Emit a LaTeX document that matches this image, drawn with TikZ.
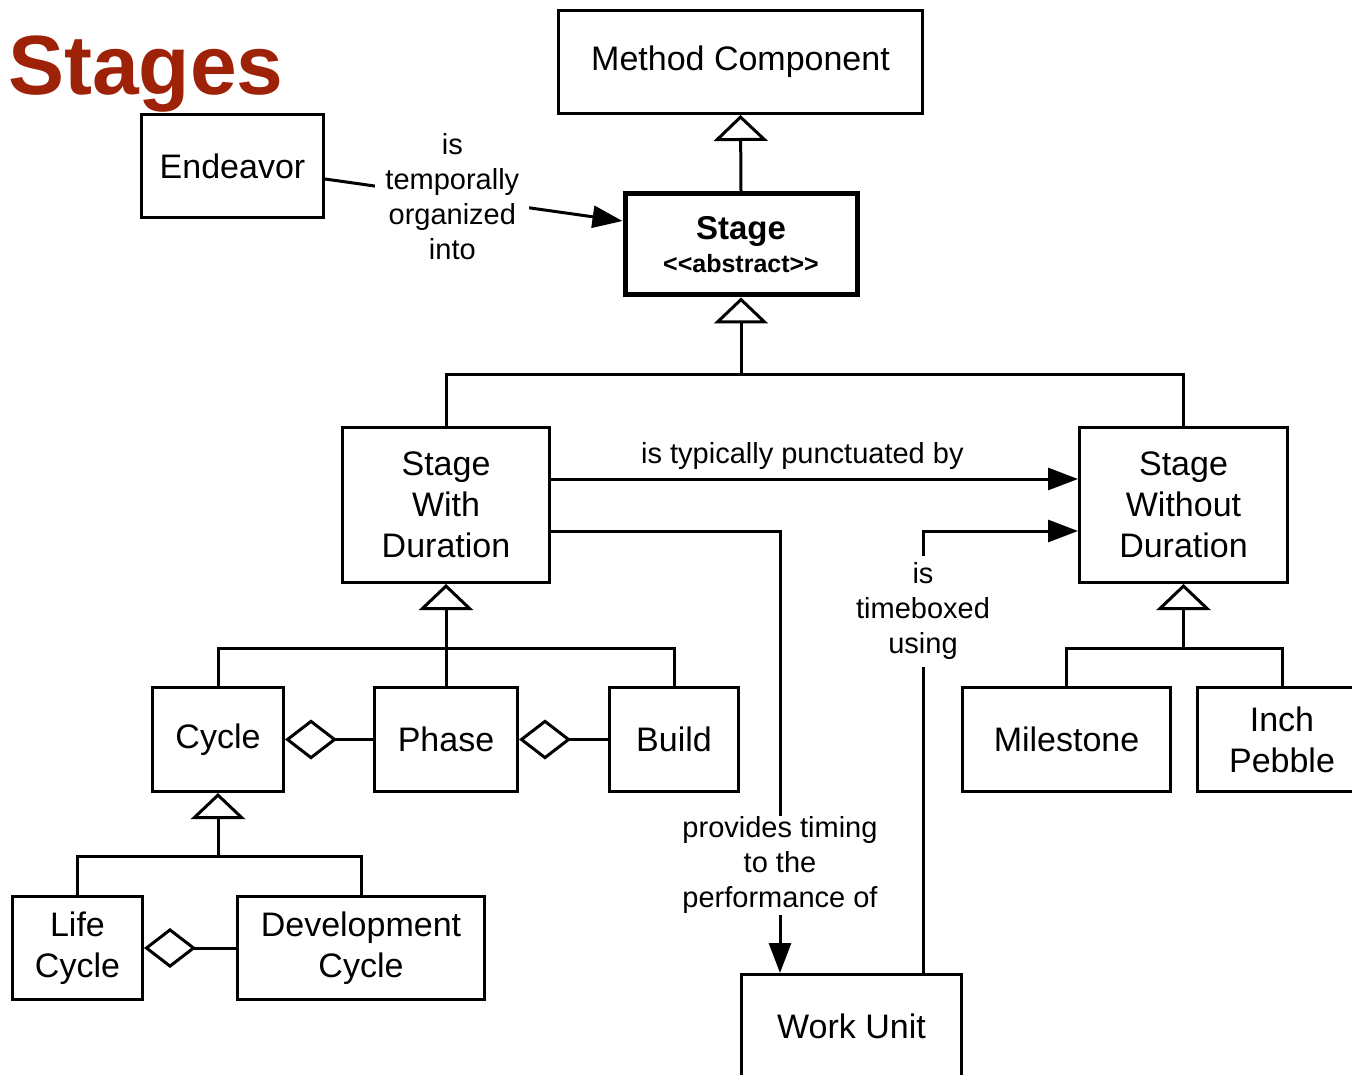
\documentclass[tikz,border=0pt]{standalone}
\usepackage{fontspec}
\setmainfont{Liberation Sans}
\usetikzlibrary{arrows.meta, positioning}
\definecolor{titlered}{RGB}{158,34,8}

\begin{document}
\begin{tikzpicture}[
    x=1pt, y=-1pt,
    box/.style={rectangle, draw, line width=3pt, align=center, inner sep=0pt, font=\fontsize{34}{41}\selectfont},
    lbl/.style={align=center, fill=white, inner sep=3pt, font=\fontsize{29}{35}\selectfont},
    link/.style={line width=3pt},
    arrow/.style={link, -{Triangle[length=30pt, width=22pt]}},
    gen/.style={link, -{Triangle[open, length=26pt, width=54pt]}},
    agg/.style={link, -{Diamond[open, length=52pt, width=40pt]}}
]
    \clip (0,0) rectangle (1352,1075);

    \node[anchor=base west, inner sep=0pt, text=titlered, font=\fontsize{84}{84}\selectfont\bfseries] (title) at (8,95) {Stages};

    % top of the hierarchy
    \node[box, minimum width=364pt, minimum height=103pt] (method) at (740.5,62) {Method Component};
    \node[box, minimum width=182pt, minimum height=103pt] (endeavor) at (232.5,166) {Endeavor};
    \node[box, line width=5pt, minimum width=232pt, minimum height=101pt] (stage) at (741,244.5) {{\fontsize{33}{36}\selectfont\bfseries Stage}\\[-8pt]{\fontsize{25}{30}\selectfont\bfseries {<}{<}abstract{>}{>}}};

    % kinds of stage
    \node[box, minimum width=207pt, minimum height=155pt] (swd) at (446,505) {Stage\\With\\Duration};
    \node[box, minimum width=208pt, minimum height=155pt] (swod) at (1183.5,505) {Stage\\Without\\Duration};

    \node[box, minimum width=131pt, minimum height=104pt] (cycle) at (218,739.5) {Cycle};
    \node[box, minimum width=143pt, minimum height=104pt] (phase) at (446,739.5) {Phase};
    \node[box, minimum width=129pt, minimum height=104pt] (build) at (674,739.5) {Build};
    \node[box, minimum width=208pt, minimum height=104pt] (milestone) at (1066.5,739.5) {Milestone};
    \node[box, minimum width=169pt, minimum height=104pt] (inch) at (1282,739.5) {Inch\\Pebble};

    \node[box, minimum width=130pt, minimum height=103pt] (life) at (77.5,948) {Life\\Cycle};
    \node[box, minimum width=247pt, minimum height=103pt] (dev) at (361,948) {Development\\Cycle};

    \node[box, minimum width=220pt, minimum height=103pt] (work) at (851.5,1026) {Work Unit};

    % generalization joins
    \coordinate (stagejoin) at (741,374);
    \coordinate (swdjoin) at (446,648);
    \coordinate (swodjoin) at (1183.5,648);
    \coordinate (cyclejoin) at (218,856);

    \draw[gen] (stage.north) -- (method.south);

    \draw[link] (swd.north) |- (stagejoin) -| (swod.north);
    \draw[gen] (stagejoin) -- (stage.south);

    \draw[link] (cycle.north) |- (swdjoin) -| (build.north);
    \draw[link] (phase.north) -- (swdjoin);
    \draw[gen] (swdjoin) -- (swd.south);

    \draw[link] (milestone.north) |- (swodjoin) -| (inch.north);
    \draw[gen] (swodjoin) -- (swod.south);

    \draw[link] (life.north) |- (cyclejoin) -| (dev.north);
    \draw[gen] (cyclejoin) -- (cycle.south);

    % aggregation
    \draw[agg] (phase.west) -- (cycle.east);
    \draw[agg] (build.west) -- (phase.east);
    \draw[agg] (dev.west) -- (life.east);

    % associations
    \draw[arrow] ([yshift=-13pt]endeavor.east) -- node[lbl, pos=0.428, inner xsep=10pt] {is\\temporally\\organized\\into} ([yshift=23.5pt]stage.west);
    \draw[arrow] ([yshift=26pt]swd.east) -- node[lbl, above, pos=0.477, fill=none, inner sep=8pt] {is typically punctuated by} ([yshift=26pt]swod.west);
    \draw[arrow] ([yshift=-26pt]swd.east) -| node[lbl, pos=0.878, inner sep=1pt] {provides timing\\to the\\performance of} ([xshift=-71.5pt]work.north);
    \draw[arrow] ([xshift=71.5pt]work.north) |- node[lbl, pos=0.409, inner sep=7pt] {is\\timeboxed\\using} ([yshift=-26pt]swod.west);
\end{tikzpicture}
\end{document}
